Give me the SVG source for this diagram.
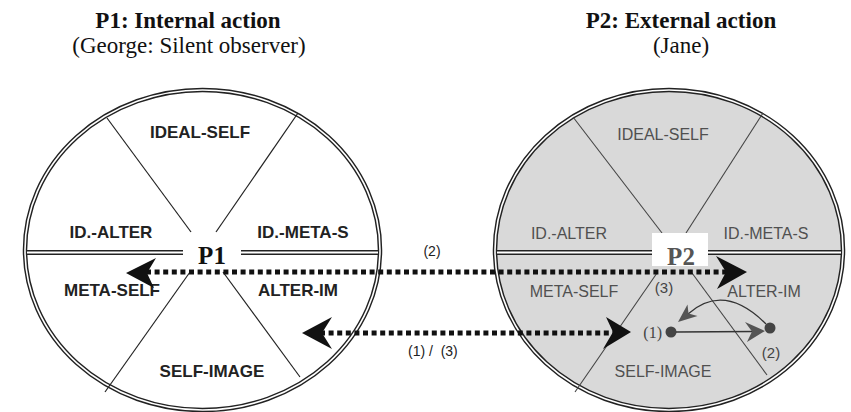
<svg xmlns="http://www.w3.org/2000/svg" width="851" height="412" viewBox="0 0 851 412">
<style>
.title{font-family:"Liberation Serif",serif;font-size:23px;font-weight:bold;fill:#111;text-anchor:middle}
.sub{font-family:"Liberation Serif",serif;font-size:23px;fill:#111;text-anchor:middle}
.lab1{font-family:"Liberation Sans",Arial,sans-serif;font-size:17px;font-weight:bold;fill:#222;text-anchor:middle}
.lab2{font-family:"Liberation Sans",Arial,sans-serif;font-size:16px;fill:#505050;text-anchor:middle}
.pn{font-family:"Liberation Serif",serif;font-size:25px;font-weight:bold;text-anchor:middle}
.num{font-family:"Liberation Sans",Arial,sans-serif;font-size:14px;fill:#222}
.numg{font-family:"Liberation Sans",Arial,sans-serif;font-size:15px;fill:#444}
.numgs{font-family:"Liberation Serif",serif;font-size:16px;fill:#444}
.outer{stroke:#222;stroke-width:4.5}
.inner{fill:none;stroke:#fff;stroke-width:1.6}
.hl{stroke:#222;stroke-width:5}
.hli{stroke:#fff;stroke-width:1.8}
.sec{stroke:#222;stroke-width:1.2}
.sec2{stroke:#444;stroke-width:1.1}
.dots{stroke:#111;stroke-width:5;stroke-dasharray:5 3.6;fill:none}
.big{fill:#111}
.small{fill:#555}
.thin{stroke:#333;stroke-width:1.3;fill:none}
</style>
<rect width="851" height="412" fill="#fff"/>

<g id="titles">
<text class="title" x="188" y="28">P1: Internal action</text>
<text class="sub" x="189" y="53">(George: Silent observer)</text>
<text class="title" x="681" y="28">P2: External action</text>
<text class="sub" x="681" y="53">(Jane)</text>
</g>

<g id="p1">
<ellipse cx="202.5" cy="250" rx="177.5" ry="160" class="outer" style="fill:#fff"/>
<ellipse cx="202.5" cy="250" rx="177.5" ry="160" class="inner"/>
<line class="hl" x1="27" y1="252.5" x2="183" y2="252.5"/>
<line class="hli" x1="27" y1="252.5" x2="183" y2="252.5"/>
<line class="hl" x1="241" y1="252.5" x2="378" y2="252.5"/>
<line class="hli" x1="241" y1="252.5" x2="378" y2="252.5"/>
<line class="sec" x1="107" y1="118" x2="191" y2="232"/>
<line class="sec" x1="298" y1="113" x2="216" y2="232"/>
<line class="sec" x1="190" y1="272" x2="105" y2="392"/>
<line class="sec" x1="223" y1="272" x2="300" y2="377"/>
<text class="lab1" x="200" y="138">IDEAL-SELF</text>
<text class="lab1" x="111" y="238">ID.-ALTER</text>
<text class="lab1" x="303" y="238">ID.-META-S</text>
<text class="lab1" x="112" y="296">META-SELF</text>
<text class="lab1" x="298" y="296">ALTER-IM</text>
<text class="lab1" x="212" y="377">SELF-IMAGE</text>
<text class="pn" x="212" y="264" fill="#111">P1</text>
</g>

<g id="p2">
<ellipse cx="669" cy="250" rx="174" ry="160" class="outer" style="fill:#d9d9d9"/>
<ellipse cx="669" cy="250" rx="174" ry="160" class="inner"/>
<line class="hl" x1="497" y1="252.5" x2="652" y2="252.5"/>
<line class="hli" x1="497" y1="252.5" x2="652" y2="252.5"/>
<line class="hl" x1="708" y1="252.5" x2="841" y2="252.5"/>
<line class="hli" x1="708" y1="252.5" x2="841" y2="252.5"/>
<line class="sec2" x1="573" y1="117" x2="662" y2="233"/>
<line class="sec2" x1="763" y1="113" x2="686" y2="233"/>
<line class="sec2" x1="657" y1="273" x2="575" y2="392"/>
<line class="sec2" x1="692" y1="273" x2="767" y2="375"/>
<rect x="652" y="233" width="56" height="33" fill="#fff"/>
<text class="lab2" x="663" y="140">IDEAL-SELF</text>
<text class="lab2" x="569" y="239">ID.-ALTER</text>
<text class="lab2" x="766" y="239">ID.-META-S</text>
<text class="lab2" x="574" y="297">META-SELF</text>
<text class="lab2" x="764" y="297">ALTER-IM</text>
<text class="lab2" x="663" y="377">SELF-IMAGE</text>
<text class="pn" x="681" y="265" fill="#555">P2</text>
</g>

<g id="mini">
<circle cx="671" cy="332" r="5.5" fill="#444"/>
<circle cx="770" cy="328" r="5.5" fill="#444"/>
<text class="numg" x="664" y="293" text-anchor="middle">(3)</text>
<text class="numgs" x="662" y="338" text-anchor="end">(1)</text>
<text class="numg" x="771" y="358" text-anchor="middle">(2)</text>
</g>

<g id="connectors">
<line class="dots" x1="146" y1="272" x2="728" y2="272"/>
<polygon class="big" points="126,273 156,258 147,273 154,288"/>
<polygon class="big" points="747,272 716,256 726,272 717,289"/>
<line class="dots" x1="320" y1="333" x2="614" y2="333"/>
<polygon class="big" points="302,333 332,317 322,333 332,349"/>
<polygon class="big" points="631,332 606,317 613,332 603,349"/>
<line class="thin" x1="676" y1="332" x2="754" y2="331.5"/>
<polygon class="small" points="765,331 745,322 752,331.5 747,342"/>
<path class="thin" d="M766,324 Q724,282 688,314"/>
<polygon class="small" points="678,322 687.5,304.5 688.5,313.5 697.5,316"/>
<text class="num" x="432" y="256" text-anchor="middle">(2)</text>
<text class="num" x="408" y="356" xml:space="preserve">(1) /  (3)</text>
</g>
</svg>
